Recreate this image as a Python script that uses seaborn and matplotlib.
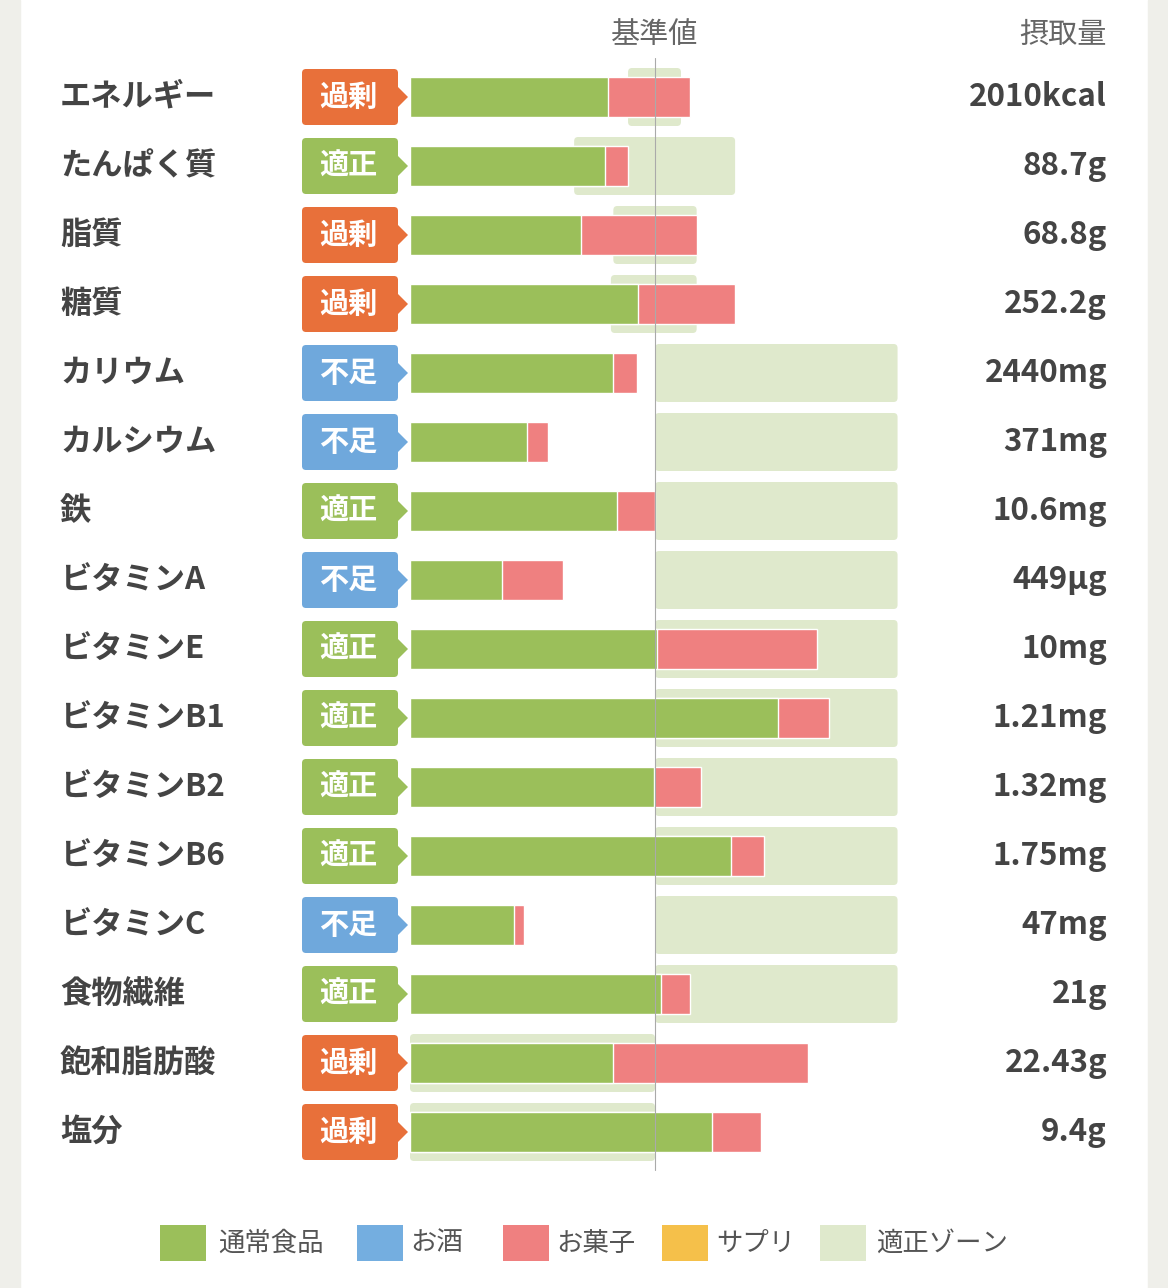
import matplotlib
matplotlib.use("Agg")
import matplotlib.pyplot as plt
import seaborn as sns
import pandas as pd
from matplotlib.patches import FancyBboxPatch, Polygon, Rectangle

sns.set_theme(style="white")
plt.rcParams['font.family'] = ['Noto Sans CJK JP', 'DejaVu Sans']

nutrients = ["エネルギー", "たんぱく質", "脂質", "糖質", "カリウム", "カルシウム", "鉄", "ビタミンA",
             "ビタミンE", "ビタミンB1", "ビタミンB2", "ビタミンB6", "ビタミンC", "食物繊維", "飽和脂肪酸", "塩分"]
status = ["過剰", "適正", "過剰", "過剰", "不足", "不足", "適正", "不足",
          "適正", "適正", "適正", "適正", "不足", "適正", "過剰", "過剰"]
intake = ["2010kcal", "88.7g", "68.8g", "252.2g", "2440mg", "371mg", "10.6mg", "449μg",
          "10mg", "1.21mg", "1.32mg", "1.75mg", "47mg", "21g", "22.43g", "9.4g"]
# percent of standard value
food = [80.8, 79.6, 69.8, 93.0, 82.9, 47.8, 84.5, 37.6, 101.0, 150.0, 99.6, 131.0, 42.4, 102.4, 82.9, 123.3]
total = [114.3, 89.0, 117.0, 132.7, 92.7, 56.3, 100.0, 62.4, 166.0, 171.0, 118.8, 144.5, 46.5, 114.3, 162.4, 143.3]
zone_lo = [89, 67, 83, 82, 100, 100, 100, 100, 100, 100, 100, 100, 100, 100, 0, 0]
zone_hi = [110.6, 132.7, 117, 117, 199, 199, 199, 199, 199, 199, 199, 199, 199, 199, 100, 100]
legend_labels = ["通常食品", "お酒", "お菓子", "サプリ", "適正ゾーン"]

GREEN, PINK, ZONE = "#9bbf5a", "#ef8080", "#dfe9cc"
BADGE = {"過剰": "#e8703a", "適正": "#9bbf5a", "不足": "#6fa8dc"}
legend_colors = [GREEN, "#74aee0", PINK, "#f5c04a", ZONE]
TXT = "#444444"

S = 2.45  # px per percent
ROW = 69.0
def X(px): return (px - 410) / S
def Y(py): return (py - 97) / ROW

fig = plt.figure(figsize=(11.68, 12.88), dpi=100)
fig.patches.append(Rectangle((0, 0), 20/1168, 1, transform=fig.transFigure, color="#efefea", zorder=0))
fig.patches.append(Rectangle((1148/1168, 0), 20/1168, 1, transform=fig.transFigure, color="#efefea", zorder=0))
ax = fig.add_axes([20/1168, 0, 1128/1168, 1])
ax.set_facecolor("white")

asp = (1/ROW) / (1/S)
for i in range(len(nutrients)):
    ax.add_patch(FancyBboxPatch((zone_lo[i], i - 29/ROW), zone_hi[i] - zone_lo[i], 58/ROW,
                                boxstyle=f"round,pad=0,rounding_size={4/S}", mutation_aspect=asp,
                                fc=ZONE, ec="none", zorder=1))

df = pd.DataFrame({"n": nutrients, "food": food, "total": total})
sns.barplot(data=df, y="n", x="total", color=PINK, width=40/ROW, orient="h", ax=ax, zorder=2, saturation=1)
sns.barplot(data=df, y="n", x="food", color=GREEN, width=40/ROW, orient="h", ax=ax, zorder=3, saturation=1)

ax.set_xlim(X(20), X(1148))
ax.set_ylim(Y(1288), Y(0))
ax.axis("off")

ax.plot([100, 100], [Y(58), Y(1170)], color="#aaaaaa", lw=0.8, zorder=4)
ax.text(100, Y(35), "基準値", ha="center", va="center", fontsize=21, color="#666666")
ax.text(X(1107), Y(35), "摂取量", ha="right", va="center", fontsize=21, color="#666666")

for i, (n, s, v) in enumerate(zip(nutrients, status, intake)):
    ax.text(X(60), i, n, ha="left", va="center", fontsize=22.5, color=TXT, fontweight="bold")
    ax.text(X(1107), i, v, ha="right", va="center", fontsize=22.5, color=TXT, fontweight="bold")
    c = BADGE[s]
    ax.add_patch(FancyBboxPatch((X(302), i - 28/ROW), 96/S, 56/ROW,
                                boxstyle=f"round,pad=0,rounding_size={4/S}", mutation_aspect=asp,
                                fc=c, ec="none", zorder=3))
    ax.add_patch(Polygon([(X(396), i - 12/ROW), (X(408), i), (X(396), i + 12/ROW)], closed=True,
                         fc=c, ec="none", zorder=3))
    ax.text(X(348), i, s, ha="center", va="center", fontsize=21, color="white", fontweight="bold", zorder=5)

ly = Y(1243)
for px, tx, lab, col in zip([160, 357, 503, 662, 820], [218, 410, 556, 716, 876], legend_labels, legend_colors):
    ax.add_patch(Rectangle((X(px), ly - 18/ROW), 46/S, 36/ROW, fc=col, ec="none"))
    ax.text(X(tx), ly, lab, ha="left", va="center", fontsize=19, color="#555555")

fig.savefig("out.png", dpi=100)
